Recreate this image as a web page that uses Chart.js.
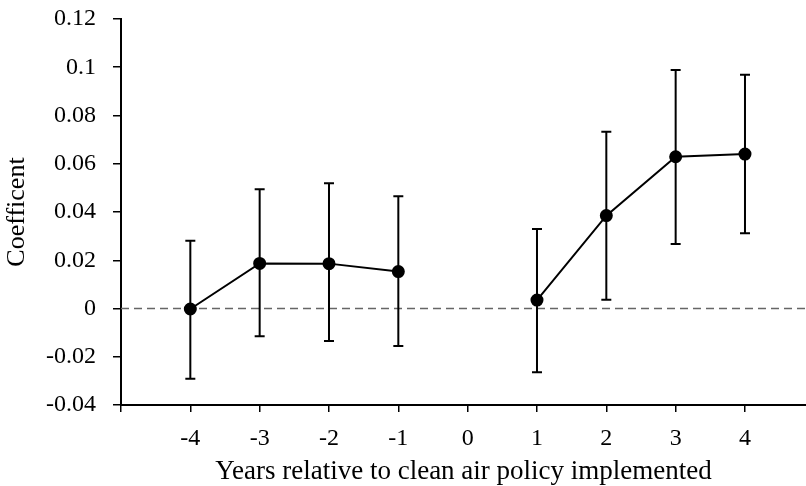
<!DOCTYPE html>
<html>
<head>
<meta charset="utf-8">
<script src="https://cdn.jsdelivr.net/npm/chart.js@4.4.0/dist/chart.umd.min.js"></script>
<style>
  html, body { margin: 0; padding: 0; background: #fff; }
  #wrap { width: 806px; height: 486px; }
</style>
</head>
<body>
<div id="wrap"><canvas id="chart-area" width="806" height="486"></canvas></div>
<script>
  var years = [-4, -3, -2, -1, 0, 1, 2, 3, 4];
  var coef  = [-0.0002, 0.0187, 0.0186, 0.0153, null, 0.0035, 0.0385, 0.0629, 0.064];
  var upper = [0.0281, 0.0494, 0.0519, 0.0465, null, 0.033, 0.0733, 0.0989, 0.0969];
  var lower = [-0.0291, -0.0115, -0.0135, -0.0155, null, -0.0264, 0.0036, 0.0267, 0.0312];
  var yTicks = [-0.04, -0.02, 0, 0.02, 0.04, 0.06, 0.08, 0.1, 0.12];

  var points = years.map(function(x, i) { return { x: x, y: coef[i] }; });

  // whiskers with caps, placed through the chart scales
  var errorBars = {
    id: 'errorBars',
    afterDatasetsDraw: function(chart) {
      var ctx = chart.ctx;
      var xs = chart.scales.x, ys = chart.scales.y;
      ctx.save();
      ctx.strokeStyle = '#000';
      ctx.lineWidth = 2;
      years.forEach(function(x, i) {
        if (upper[i] == null) return;
        var px = xs.getPixelForValue(x);
        var top = ys.getPixelForValue(upper[i]);
        var bot = ys.getPixelForValue(lower[i]);
        ctx.beginPath();
        ctx.moveTo(px, top); ctx.lineTo(px, bot);
        ctx.moveTo(px - 5, top); ctx.lineTo(px + 5, top);
        ctx.moveTo(px - 5, bot); ctx.lineTo(px + 5, bot);
        ctx.stroke();
      });
      ctx.restore();
    }
  };

  var serif = 'Liberation Serif, Times New Roman, serif';

  var config = {
    type: 'line',
    data: {
      datasets: [{
        data: points,
        borderColor: '#000',
        backgroundColor: '#000',
        borderWidth: 2,
        pointRadius: 5.5,
        pointHoverRadius: 5.5,
        spanGaps: false,
        order: 0
      }, {
        data: [{ x: -5, y: 0 }, { x: 4.88, y: 0 }],
        borderColor: '#666',
        borderWidth: 1.3,
        borderDash: [8, 5],
        pointRadius: 0,
        order: 1
      }]
    },
    options: {
      responsive: false,
      animation: false,
      layout: { autoPadding: false, padding: { top: 19, right: 0, left: 2, bottom: 0 } },
      plugins: { legend: { display: false }, tooltip: { enabled: false } },
      scales: {
        x: {
          type: 'linear',
          min: -5,
          max: 4.88,
          afterBuildTicks: function(scale) {
            scale.ticks = [-5].concat(years).map(function(v) { return { value: v }; });
          },
          afterFit: function(scale) {
            scale.height = 81;
            scale.paddingLeft = 0;
            scale.paddingRight = 0;
          },
          ticks: {
            callback: function(v) { return v === -5 ? '' : String(v); },
            color: '#000',
            font: { family: serif, size: 24 },
            padding: 12,
            maxRotation: 0
          },
          grid: { drawOnChartArea: false, drawTicks: true, tickLength: 7, color: '#000', lineWidth: 1.5 },
          border: { display: true, color: '#000', width: 2 },
          title: {
            display: true,
            text: 'Years relative to clean air policy implemented',
            color: '#000',
            font: { family: serif, size: 27 },
            padding: { top: 0, bottom: -2 }
          }
        },
        y: {
          min: -0.04,
          max: 0.12,
          afterBuildTicks: function(scale) {
            scale.ticks = yTicks.map(function(v) { return { value: v }; });
          },
          afterFit: function(scale) {
            scale.width = 119;
            scale.paddingTop = 0;
            scale.paddingBottom = 0;
          },
          ticks: {
            callback: function(v) { return String(Math.round(v * 100) / 100); },
            color: '#000',
            font: { family: serif, size: 24 },
            padding: 17
          },
          grid: { drawOnChartArea: false, drawTicks: true, tickLength: 8, color: '#000', lineWidth: 1.5 },
          border: { display: true, color: '#000', width: 2 },
          title: {
            display: true,
            text: 'Coefficent',
            color: '#000',
            font: { family: serif, size: 26 },
            padding: { top: 0, bottom: 4 }
          }
        }
      }
    },
    plugins: [errorBars]
  };

  window.onload = function() {
    var ctx = document.getElementById('chart-area').getContext('2d');
    window.myChart = new Chart(ctx, config);
  };
</script>
</body>
</html>
